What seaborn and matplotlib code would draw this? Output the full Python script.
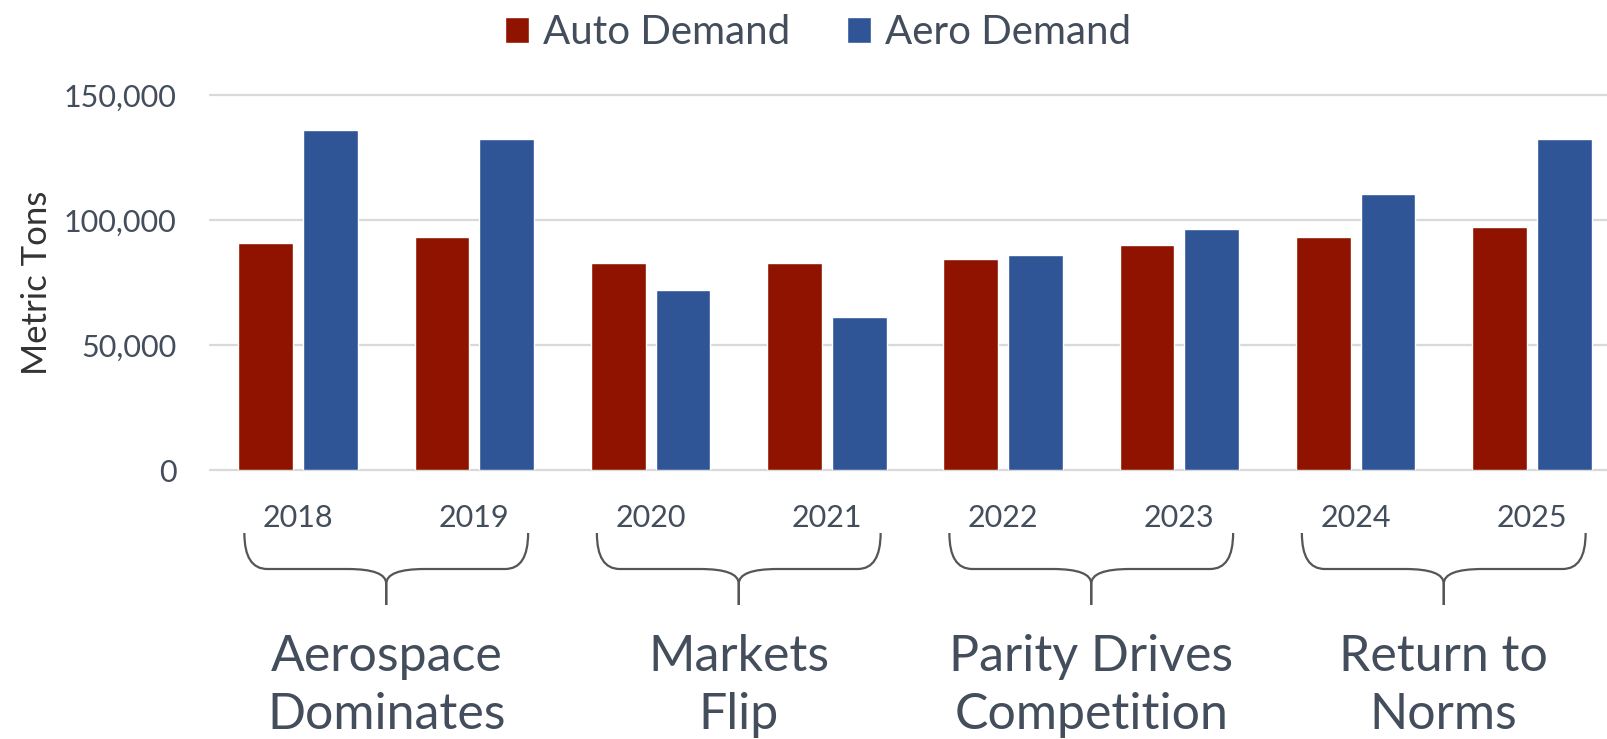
import numpy as np
import pandas as pd
import matplotlib
matplotlib.use("Agg")
import matplotlib.pyplot as plt
import seaborn as sns
from matplotlib.path import Path
from matplotlib.patches import PathPatch
from matplotlib.transforms import blended_transform_factory
from matplotlib.ticker import FuncFormatter

years = ["2018", "2019", "2020", "2021", "2022", "2023", "2024", "2025"]
auto_demand = [91000, 93500, 83000, 83000, 84500, 90000, 93500, 97500]
aero_demand = [136000, 132500, 72000, 61500, 86000, 96500, 110500, 132500]
series_names = ["Auto Demand", "Aero Demand"]
groups = ["Aerospace\nDominates", "Markets\nFlip", "Parity Drives\nCompetition", "Return to\nNorms"]
y_ticks = [0, 50000, 100000, 150000]

df = pd.DataFrame({
    "Year": years * 2,
    "Series": [series_names[0]] * len(years) + [series_names[1]] * len(years),
    "Value": auto_demand + aero_demand,
})

sns.set_theme(style="white")
plt.rcParams["font.family"] = ["Lato", "DejaVu Sans"]
TXT = "#434D5B"

fig = plt.figure(figsize=(16.07, 7.39), dpi=100)
ax = fig.add_axes([210 / 1607, 1 - 470.5 / 739, 1410 / 1607, 375.2 / 739])

sns.barplot(data=df, x="Year", y="Value", hue="Series", order=years,
            hue_order=series_names, palette=["#901300", "#2F5597"],
            width=0.733, gap=0.153, saturation=1, ax=ax, errorbar=None)

ax.set_xlim(-0.5, len(years) - 0.5)
ax.set_ylim(0, 150000)
ax.set_yticks(y_ticks)
ax.yaxis.set_major_formatter(FuncFormatter(lambda v, p: f"{int(v):,}"))
ax.grid(axis="y", color="#D9D9D9", linewidth=1.6)
ax.set_axisbelow(True)
for s in ax.spines.values():
    s.set_visible(False)
ax.tick_params(axis="both", length=0, labelsize=22, colors=TXT)
ax.tick_params(axis="x", pad=24)
ax.tick_params(axis="y", pad=24)
ax.set_xlabel("")
ax.set_ylabel("Metric Tons", fontsize=25, color="#333333", labelpad=8)
for gl in ax.get_ygridlines():
    gl.set_clip_on(False)

handles, labels = ax.get_legend_handles_labels()
ax.get_legend().remove()
fig.legend(handles, labels, loc="upper center", bbox_to_anchor=(818 / 1607, 1.03),
           ncol=2, frameon=False, fontsize=29, handlelength=0.6, handleheight=0.6,
           handletextpad=0.35, columnspacing=1.4, labelcolor=TXT)

# group braces and labels
trans = blended_transform_factory(ax.transData, fig.transFigure)
top, mid, tip = 1 - 533 / 739, 1 - 569 / 739, 1 - 605 / 739
hw, r1, r2, dd = 0.805, 0.13, 0.22, 0.02
for gi, name in enumerate(groups):
    c = 2 * gi + 0.5
    for sgn in (-1, 1):
        verts = [(c + sgn * hw, top), (c + sgn * hw, mid), (c + sgn * (hw - r1), mid),
                 (c + sgn * r2, mid), (c, mid), (c, mid - dd), (c, tip)]
        codes = [Path.MOVETO, Path.CURVE3, Path.CURVE3, Path.LINETO,
                 Path.CURVE3, Path.CURVE3, Path.LINETO]
        ax.add_patch(PathPatch(Path(verts, codes), transform=trans, fill=False,
                               edgecolor="#555555", linewidth=1.6, clip_on=False))
    ax.text(c, 1 - 686 / 739, name, transform=trans, ha="center", va="center",
            fontsize=36, color=TXT, linespacing=1.33, clip_on=False)

fig.savefig("out.png", dpi=100)
